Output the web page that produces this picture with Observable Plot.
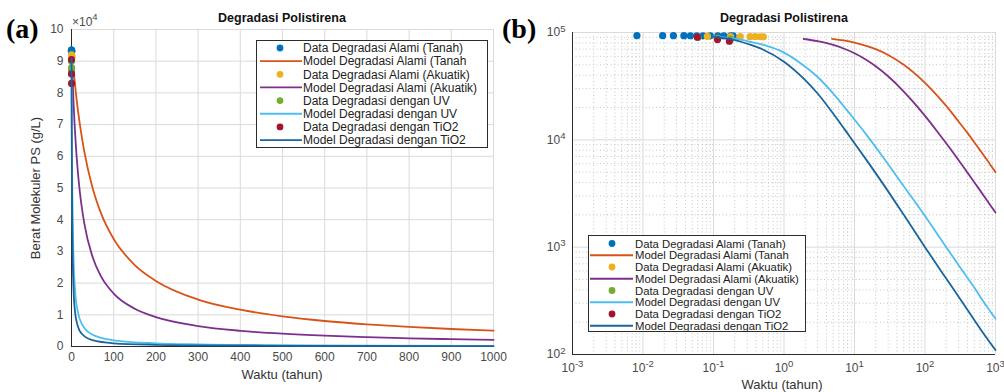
<!DOCTYPE html>
<html>
<head>
<meta charset="utf-8">
<script src="https://cdn.jsdelivr.net/npm/d3@7"></script>
<script src="https://cdn.jsdelivr.net/npm/@observablehq/plot@0.6"></script>
<style>
  html, body { margin: 0; padding: 0; background: #fff; }
  #root { position: relative; width: 1004px; height: 392px; overflow: hidden; background: #fff; }
  #root > svg { position: absolute; top: 0; }
</style>
</head>
<body>
<div id="root"></div>
<script>
// ---------------- DATA ----------------
// Measured data points (t in years, M in g/L)
const tanahDataT = [0.0082, 0.019, 0.027, 0.038, 0.047, 0.058, 0.071, 0.090, 0.115, 0.14, 0.175, 0.19];
const tanahDataM = [93500, 93500, 93400, 93400, 93300, 93300, 93200, 93200, 93100, 93000, 93000, 92900];
const akuatikDataT = [0.082, 0.175, 0.24, 0.33, 0.39, 0.46, 0.51];
const akuatikDataM = [92000, 91800, 91700, 91500, 91400, 91300, 91200];
const uvDataT = [0.06, 0.115, 0.175];
const uvDataM = [90000, 88000, 87000];
const tio2DataT = [0.059, 0.114, 0.168];
const tio2DataM = [90500, 86000, 83000];

// Model curves
const tanahModelT = [4.8, 7, 10, 15, 20, 30, 50, 70, 100, 150, 200, 300, 400, 500, 600, 700, 800, 900, 1000];
const tanahModelM = [87400, 84400, 80500, 74800, 69900, 61700, 50000, 42000, 33900, 25700, 20700, 14800, 11600, 9500, 8050, 6990, 6170, 5520, 5000];
const akuatikModelT = [1.9, 3, 5, 7, 10, 15, 20, 30, 50, 70, 100, 150, 200, 300, 400, 500, 600, 700, 800, 900, 1000];
const akuatikModelM = [87000, 83000, 76500, 71000, 64100, 55200, 48500, 39100, 28200, 22100, 16700, 11900, 9280, 6450, 4950, 4030, 3400, 2940, 2590, 2315, 2100];
const uvModelT = [0.1, 0.2, 0.33, 0.5, 1, 2, 3, 5, 8.6, 15, 25, 50, 100, 200, 300, 500, 700, 1000];
const uvModelM = [91500, 87500, 82000, 77000, 65000, 48000, 38500, 27000, 17500, 11000, 7000, 3700, 1950, 1000, 680, 420, 300, 215];
const tio2ModelT = [0.1, 0.2, 0.33, 0.5, 1, 2, 3, 5, 8.6, 15, 25, 50, 100, 200, 300, 500, 700, 1000];
const tio2ModelM = [91000, 85000, 77000, 69500, 53500, 36000, 27000, 17500, 10700, 6400, 3950, 2000, 1000, 510, 345, 210, 152, 110];

// Legend labels / colours (legend order = draw order)
const legendLabels = [
  "Data Degradasi Alami (Tanah)",
  "Model Degradasi Alami (Tanah",
  "Data Degradasi Alami (Akuatik)",
  "Model Degradasi Alami (Akuatik)",
  "Data Degradasi dengan UV",
  "Model Degradasi dengan UV",
  "Data Degradasi dengan TiO2",
  "Model Degradasi dengan TiO2"
];
const seriesColors = ["#0072BD", "#D95319", "#EDB120", "#7E2F8E", "#77AC30", "#4DBEEE", "#A2142F", "#1a659c"];

// Tick labels
const xTicksA = [0, 100, 200, 300, 400, 500, 600, 700, 800, 900, 1000];
const yTicksA = [0, 10000, 20000, 30000, 40000, 50000, 60000, 70000, 80000, 90000, 100000];
const xTicksB = [1e-3, 1e-2, 1e-1, 1, 10, 100, 1000];
const yTicksB = [1e2, 1e3, 1e4, 1e5];

const titleText = "Degradasi Polistirena";
const xLabelText = "Waktu (tahun)";
const yLabelText = "Berat Molekuler PS (g/L)";

// ---------------- BUILD ----------------
const FONT = "'Liberation Sans', Arial, Helvetica, sans-serif";
const zip = (T, M) => T.map((t, i) => ({t, m: M[i]}));
const seriesData = [
  ["dot", zip(tanahDataT, tanahDataM)],
  ["line", zip(tanahModelT, tanahModelM)],
  ["dot", zip(akuatikDataT, akuatikDataM)],
  ["line", zip(akuatikModelT, akuatikModelM)],
  ["dot", zip(uvDataT, uvDataM)],
  ["line", zip(uvModelT, uvModelM)],
  ["dot", zip(tio2DataT, tio2DataM)],
  ["line", zip(tio2ModelT, tio2ModelM)]
].map(([kind, data], i) => ({kind, data, label: legendLabels[i], color: seriesColors[i]}));

function seriesMarks() {
  return seriesData.map(s => s.kind === "dot"
    ? Plot.dot(s.data, {x: "t", y: "m", fill: s.color, r: 3.6})
    : Plot.line(s.data, {x: "t", y: "m", stroke: s.color, strokeWidth: 1.8, curve: "monotone-x"}));
}

function minorTicks(major) {
  const out = [];
  for (let i = 0; i < major.length - 1; i++) for (let k = 2; k <= 9; k++) out.push(major[i] * k);
  return out;
}

const baseStyle = {fontFamily: FONT, fontSize: "12px", color: "#4a4a4a", background: "transparent", overflow: "visible"};
const GRID = "#dadada";
const AXIS = "#2b2b2b";

const chartA = Plot.plot({
  width: 500, height: 392,
  marginLeft: 71, marginRight: 7, marginTop: 29, marginBottom: 46,
  style: baseStyle,
  x: {type: "linear", domain: [0, 1000]},
  y: {type: "linear", domain: [0, 100000]},
  marks: [
    Plot.gridX(xTicksA, {stroke: GRID, strokeOpacity: 1}),
    Plot.gridY(yTicksA, {stroke: GRID, strokeOpacity: 1}),
    Plot.axisX(xTicksA, {tickSize: 0, tickPadding: 6, label: null, tickFormat: d => String(d)}),
    Plot.axisY(yTicksA, {tickSize: 0, tickPadding: 8, label: null, tickFormat: d => String(d / 10000)}),
    Plot.ruleX([0], {stroke: AXIS}),
    Plot.ruleY([0], {stroke: AXIS}),
    ...seriesMarks()
  ]
});

const chartB = Plot.plot({
  width: 504, height: 392,
  marginLeft: 72, marginRight: 9, marginTop: 32, marginBottom: 38,
  style: baseStyle,
  x: {type: "log", domain: [1e-3, 1e3]},
  y: {type: "log", domain: [1e2, 1e5]},
  marks: [
    Plot.gridX(minorTicks(xTicksB), {stroke: "#c6c6c6", strokeOpacity: 1, strokeDasharray: "1,2.5"}),
    Plot.gridY(minorTicks(yTicksB), {stroke: "#c6c6c6", strokeOpacity: 1, strokeDasharray: "1,2.5"}),
    Plot.gridX(xTicksB, {stroke: GRID, strokeOpacity: 1}),
    Plot.gridY(yTicksB, {stroke: GRID, strokeOpacity: 1}),
    Plot.axisX(xTicksB, {tickSize: 0, tickPadding: 9, label: null, tickFormat: d => "10^" + Math.round(Math.log10(d))}),
    Plot.axisY(yTicksB, {tickSize: 0, tickPadding: 7, label: null, tickFormat: d => "10^" + Math.round(Math.log10(d))}),
    Plot.ruleX([1e-3], {stroke: AXIS}),
    Plot.ruleY([1e2], {stroke: AXIS}),
    ...seriesMarks()
  ]
});

// superscripts for "10^n" tick labels
function supify(svg) {
  svg.querySelectorAll("text").forEach(t => {
    const s = t.textContent;
    if (!s.includes("^")) return;
    const [b, e] = s.split("^");
    t.textContent = b;
    const ts = document.createElementNS("http://www.w3.org/2000/svg", "tspan");
    ts.setAttribute("dy", "-0.5em");
    ts.setAttribute("font-size", "0.8em");
    ts.textContent = e;
    t.appendChild(ts);
  });
}
supify(chartB);

const root = document.getElementById("root");
chartA.style.left = "0px";
chartB.style.left = "500px";
root.appendChild(chartA);
root.appendChild(chartB);

// ---------------- OVERLAY TEXT & LEGENDS ----------------
const ov = d3.select(root).append("svg")
  .attr("width", 1004).attr("height", 392)
  .style("position", "absolute").style("left", "0px").style("top", "0px")
  .style("font-family", FONT);

// panel letters
ov.append("text").attr("x", 6).attr("y", 38).attr("font-family", "'Liberation Serif', 'Times New Roman', serif")
  .attr("font-weight", "bold").attr("font-size", 28).attr("fill", "#000").text("(a)");
ov.append("text").attr("x", 502).attr("y", 38).attr("font-family", "'Liberation Serif', 'Times New Roman', serif")
  .attr("font-weight", "bold").attr("font-size", 28).attr("fill", "#000").text("(b)");

// titles
[282, 784].forEach(cx => ov.append("text").attr("x", cx).attr("y", 22).attr("text-anchor", "middle")
  .attr("font-weight", "bold").attr("font-size", 12.5).attr("fill", "#111").text(titleText));

// exponent multiplier
const mult = ov.append("text").attr("x", 72).attr("y", 26).attr("font-size", 12).attr("fill", "#4a4a4a").text("\u00d710");
mult.append("tspan").attr("dy", -6).attr("font-size", 9.5).text("4");

// axis labels
ov.append("text").attr("x", 282).attr("y", 379).attr("text-anchor", "middle").attr("font-size", 13).attr("fill", "#333").text(xLabelText);
ov.append("text").attr("x", 782).attr("y", 389).attr("text-anchor", "middle").attr("font-size", 13).attr("fill", "#333").text(xLabelText);
ov.append("text").attr("transform", "translate(40,188) rotate(-90)").attr("text-anchor", "middle")
  .attr("font-size", 13).attr("fill", "#333").text(yLabelText);

// legends
function legend(box, rowY0, rowStep, lineX0, lineX1, dotX, textX, fontSize) {
  const g = ov.append("g");
  g.append("rect").attr("x", box[0]).attr("y", box[1]).attr("width", box[2] - box[0]).attr("height", box[3] - box[1])
    .attr("fill", "#fff").attr("stroke", "#2b2b2b").attr("stroke-width", 1);
  seriesData.forEach((s, i) => {
    const y = rowY0 + rowStep * i;
    if (s.kind === "dot") {
      g.append("circle").attr("cx", dotX).attr("cy", y).attr("r", 3.4).attr("fill", s.color);
    } else {
      g.append("line").attr("x1", lineX0).attr("x2", lineX1).attr("y1", y).attr("y2", y)
        .attr("stroke", s.color).attr("stroke-width", 1.8);
    }
    g.append("text").attr("x", textX).attr("y", y).attr("dy", "0.36em").attr("font-size", fontSize)
      .attr("fill", "#222").text(s.label);
  });
}
legend([256.5, 40.5, 487.5, 147.5], 48, 13.15, 260, 302, 280, 303, 12);
legend([588.5, 235.5, 805.5, 331.5], 243.5, 11.75, 590, 633, 612, 635, 11.3);
</script>
</body>
</html>
